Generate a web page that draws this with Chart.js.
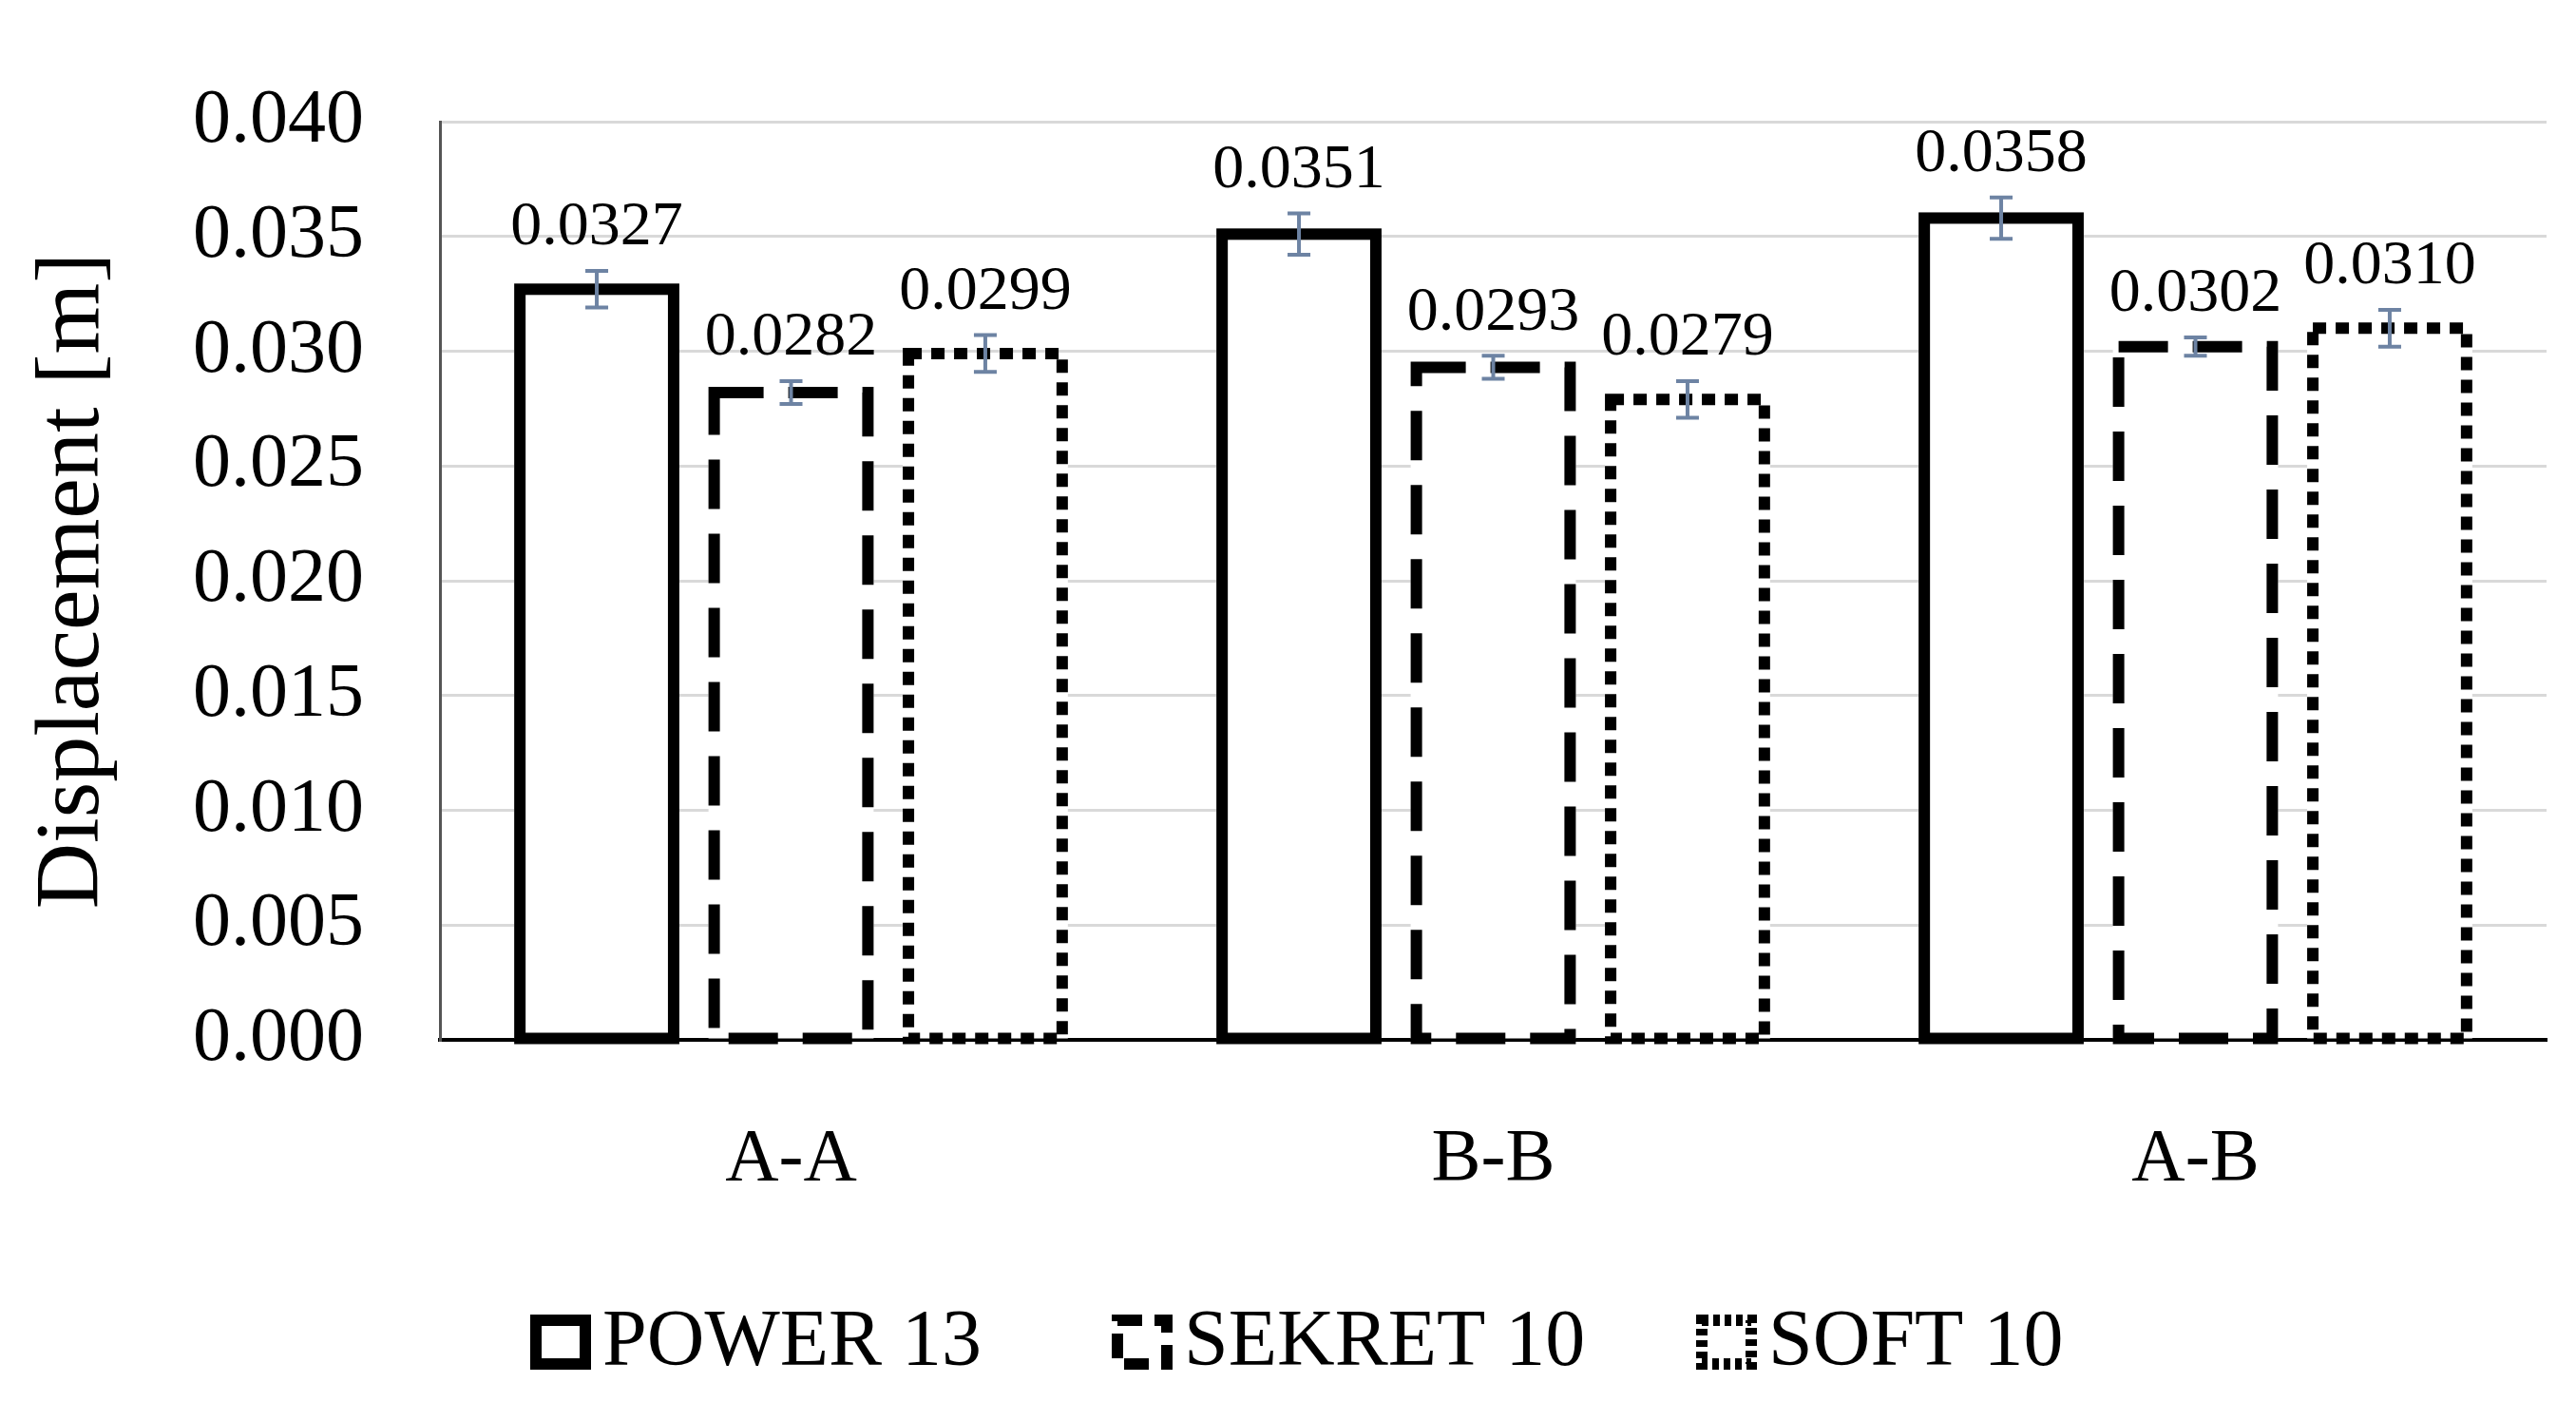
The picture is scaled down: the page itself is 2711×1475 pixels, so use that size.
<!DOCTYPE html>
<html><head><meta charset="utf-8">
<script src="https://cdn.jsdelivr.net/npm/chart.js@4"></script>
<style>html,body{margin:0;padding:0;background:#fff}#w{width:2711px;height:1475px}</style>
</head><body><div id="w"><canvas id="c"></canvas></div>
<script>
const categories = ["A-A", "B-B", "A-B"];
const seriesNames = ["POWER 13", "SEKRET 10", "SOFT 10"];
const power13 = [0.0327, 0.0351, 0.0358];
const sekret10 = [0.0282, 0.0293, 0.0302];
const soft10 = [0.0299, 0.0279, 0.0310];
const power13Err = [0.0008, 0.0009, 0.0009];
const sekret10Err = [0.0005, 0.0005, 0.0004];
const soft10Err = [0.0008, 0.0008, 0.0008];
const yTicks = [0, 0.005, 0.010, 0.015, 0.020, 0.025, 0.030, 0.035, 0.040];

const dashes = [[], [52, 26], [14, 10]];
const errs = [power13Err, sekret10Err, soft10Err];
const FONT = "'Liberation Serif', 'DejaVu Serif', serif";

const overlay = {
  id: 'overlay',
  afterDatasetsDraw(chart) {
    const ctx = chart.ctx, y = chart.scales.y;
    chart.data.datasets.forEach((ds, di) => {
      chart.getDatasetMeta(di).data.forEach((el, i) => {
        const left = el.x - el.width / 2;
        const top = el.y, bot = el.base;
        ctx.save();
        ctx.strokeStyle = '#000'; ctx.lineWidth = 12; ctx.setLineDash(dashes[di]);
        ctx.strokeRect(left + 6, top, el.width - 12, bot - top);
        ctx.setLineDash([]);
        const v = ds.data[i], e = errs[di][i];
        const yt = y.getPixelForValue(v + e), yb = y.getPixelForValue(v - e);
        ctx.strokeStyle = '#6d83a3'; ctx.lineWidth = 4;
        ctx.beginPath();
        ctx.moveTo(el.x, yt); ctx.lineTo(el.x, yb);
        ctx.moveTo(el.x - 12, yt); ctx.lineTo(el.x + 12, yt);
        ctx.moveTo(el.x - 12, yb); ctx.lineTo(el.x + 12, yb);
        ctx.stroke();
        ctx.fillStyle = '#000'; ctx.font = `66px ${FONT}`;
        ctx.textAlign = 'center'; ctx.textBaseline = 'bottom';
        ctx.fillText(v.toFixed(4), el.x, yt - 12);
        ctx.restore();
      });
    });
    const items = [558, 1170, 1785];
    ctx.save();
    items.forEach((x, di) => {
      ctx.strokeStyle = '#000'; ctx.lineWidth = 12; ctx.setLineDash(dashes[di].map(d => d * 0.5));
      ctx.strokeRect(x + 6, 1389, 52, 46);
      ctx.setLineDash([]);
      ctx.fillStyle = '#000'; ctx.font = `84px ${FONT}`;
      ctx.textAlign = 'left'; ctx.textBaseline = 'middle';
      ctx.fillText(seriesNames[di], x + 76, 1414);
    });
    ctx.restore();
  }
};

new Chart(document.getElementById('c'), {
  type: 'bar',
  data: {
    labels: categories,
    datasets: [power13, sekret10, soft10].map((d, i) => ({
      label: seriesNames[i], data: d, backgroundColor: '#fff', borderWidth: 0,
      categoryPercentage: 0.83, barPercentage: 0.85
    }))
  },
  options: {
    responsive: true, maintainAspectRatio: false, animation: false,
    layout: { padding: { top: 11, left: 20, right: 31, bottom: 0 } },
    plugins: { legend: { display: false }, tooltip: { enabled: false } },
    scales: {
      x: {
        grid: { display: false, drawTicks: false },
        border: { color: '#000', width: 4 },
        ticks: { color: '#000', font: { family: FONT, size: 78 }, padding: 80 },
        afterFit(s) { s.height = 381; }
      },
      y: {
        min: 0, max: 0.04,
        afterBuildTicks(s) { s.ticks = yTicks.map(v => ({ value: v })); },
        grid: { color: '#d9d9d9', lineWidth: 3, drawTicks: false },
        border: { color: '#555', width: 3 },
        ticks: { color: '#000', font: { family: FONT, size: 80 }, padding: 80,
          callback: v => v.toFixed(3) },
        title: { display: true, text: 'Displacement [m]', color: '#000',
          font: { family: FONT, size: 96 }, padding: 0 },
        afterFit(s) { s.width = 443; }
      }
    }
  },
  plugins: [overlay]
});
</script></body></html>
